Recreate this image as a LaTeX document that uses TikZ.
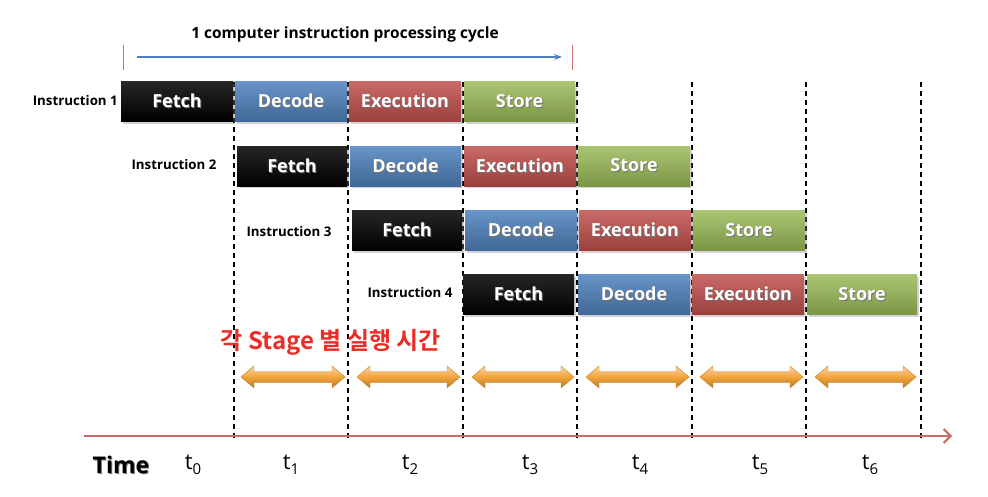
\documentclass[tikz,border=0pt]{standalone}
\usepackage{fontspec}
\setmainfont{Open Sans}
\newfontfamily\kr{Noto Sans CJK KR}[BoldFont={Noto Sans CJK KR Bold}]
\usetikzlibrary{arrows.meta,shadows}
\definecolor{decB}{HTML}{4F81BD}
\definecolor{exeR}{HTML}{C0504D}
\definecolor{stoG}{HTML}{9BBB59}
\definecolor{axisR}{HTML}{C0504D}
\definecolor{arrO}{HTML}{F2A33A}
\tikzset{
  stage/.style={minimum height=40pt, inner sep=0pt, text=white,
    font=\fontsize{18}{18}\selectfont\bfseries,
    drop shadow={shadow xshift=1.5pt, shadow yshift=-2pt, opacity=0.35}},
  fetchbox/.style={stage, top color=black!85, bottom color=black},
  decodebox/.style={stage, top color=decB!85!white, bottom color=decB!80!black},
  execbox/.style={stage, top color=exeR!85!white, bottom color=exeR!80!black},
  storebox/.style={stage, top color=stoG!85!white, bottom color=stoG!80!black},
  instr/.style={font=\fontsize{13.3}{13.3}\selectfont\bfseries, inner sep=0pt},
  guide/.style={black, line width=1.4pt, dash pattern=on 5pt off 4pt},
  tlabel/.style={font=\fontsize{22}{22}\selectfont, inner sep=0pt},
}
\newcommand{\tsub}[1]{t\raisebox{-5pt}{\fontsize{15}{15}\selectfont #1}}
\newcommand{\shtext}[1]{\rlap{\hspace{1pt}\raisebox{-1pt}{\textcolor{black!55}{#1}}}#1}
\newcommand{\orangearrow}[3]{%
  \shade[top color=arrO!45!white, bottom color=arrO!75!black, middle color=arrO, draw=arrO!80!black, line width=0.4pt]
  (#1,#3) -- (#1+13,#3-11) -- (#1+13,#3-5.5) -- (#2-13,#3-5.5) -- (#2-13,#3-11)
  -- (#2,#3) -- (#2-13,#3+11) -- (#2-13,#3+5.5) -- (#1+13,#3+5.5) -- (#1+13,#3+11) -- cycle;}
\begin{document}
\begin{tikzpicture}[x=1pt,y=-1pt]
\useasboundingbox (0,0) rectangle (988,496);
% guide lines
\foreach \gx in {234,348,463,577,692,806,921}{
  \draw[guide] (\gx,82) -- (\gx,438);
}
% title
\node[font=\fontsize{15.5}{15.5}\selectfont\bfseries, inner sep=0pt] (title) at (345,34) {1 computer instruction processing cycle};
\coordinate (cycA) at (137,57);
\coordinate (cycB) at (562,57);
\draw[decB, line width=1.1pt, -{Stealth[length=8pt,width=6pt]}] (cycA) -- (cycB);
\draw[axisR!80!white, line width=0.9pt] (123,45) -- (123,70);
\draw[axisR!80!white, line width=0.9pt] (572,45) -- (572,70);
% row 1
\node[instr, anchor=east] (i1) at (118,101) {Instruction 1};
\node[fetchbox, minimum width=112pt] (f1) at (177,101.5) {\shtext{Fetch}};
\node[decodebox, minimum width=112pt] (d1) at (291,101.5) {\shtext{Decode}};
\node[execbox, minimum width=112pt] (e1) at (405,101.5) {\shtext{Execution}};
\node[storebox, minimum width=111pt] (s1) at (519.5,101.5) {\shtext{Store}};
% row 2
\node[instr] (i2) at (174,165) {Instruction 2};
\node[fetchbox, minimum width=110pt] (f2) at (292,166) {\shtext{Fetch}};
\node[decodebox, minimum width=111pt] (d2) at (405.5,166) {\shtext{Decode}};
\node[execbox, minimum width=112pt] (e2) at (520,166) {\shtext{Execution}};
\node[storebox, minimum width=112pt] (s2) at (634,166) {\shtext{Store}};
% row 3
\node[instr] (i3) at (289,232) {Instruction 3};
\node[fetchbox, minimum width=110pt] (f3) at (407,230.5) {\shtext{Fetch}};
\node[decodebox, minimum width=112pt] (d3) at (521,230.5) {\shtext{Decode}};
\node[execbox, minimum width=112pt] (e3) at (635,230.5) {\shtext{Execution}};
\node[storebox, minimum width=112pt] (s3) at (749,230.5) {\shtext{Store}};
% row 4
\node[instr] (i4) at (410,293) {Instruction 4};
\node[fetchbox, minimum width=111pt] (f4) at (518.5,294.5) {\shtext{Fetch}};
\node[decodebox, minimum width=112pt] (d4) at (634,294.5) {\shtext{Decode}};
\node[execbox, minimum width=112pt] (e4) at (748,294.5) {\shtext{Execution}};
\node[storebox, minimum width=110pt] (s4) at (862,294.5) {\shtext{Store}};
% korean label
\node[text={rgb,255:red,235;green,45;blue,40}, font=\kr\bfseries\fontsize{24}{24}\selectfont, inner sep=0pt] (stg) at (331,342) {각 Stage 별 실행 시간};
% orange double arrows
\orangearrow{241}{345}{377}
\orangearrow{357}{460}{377}
\orangearrow{472}{574}{377}
\orangearrow{586}{689}{377}
\orangearrow{700}{803}{377}
\orangearrow{815}{916}{377}
% time axis
\coordinate (axA) at (84,436);
\coordinate (axB) at (952,436);
\draw[axisR!85!white, line width=2.6pt, -{Straight Barb[length=7pt,width=14pt,line width=2pt]}] (axA) -- (axB);
\node[font=\fontsize{23}{23}\selectfont\bfseries, inner sep=0pt] (time) at (121,465) {\shtext{Time}};
\node[tlabel] (t0) at (193,465) {\tsub{0}};
\node[tlabel] (t1) at (291,465) {\tsub{1}};
\node[tlabel] (t2) at (410,465) {\tsub{2}};
\node[tlabel] (t3) at (530,465) {\tsub{3}};
\node[tlabel] (t4) at (640,465) {\tsub{4}};
\node[tlabel] (t5) at (760,465) {\tsub{5}};
\node[tlabel] (t6) at (870,465) {\tsub{6}};
\end{tikzpicture}
\end{document}
